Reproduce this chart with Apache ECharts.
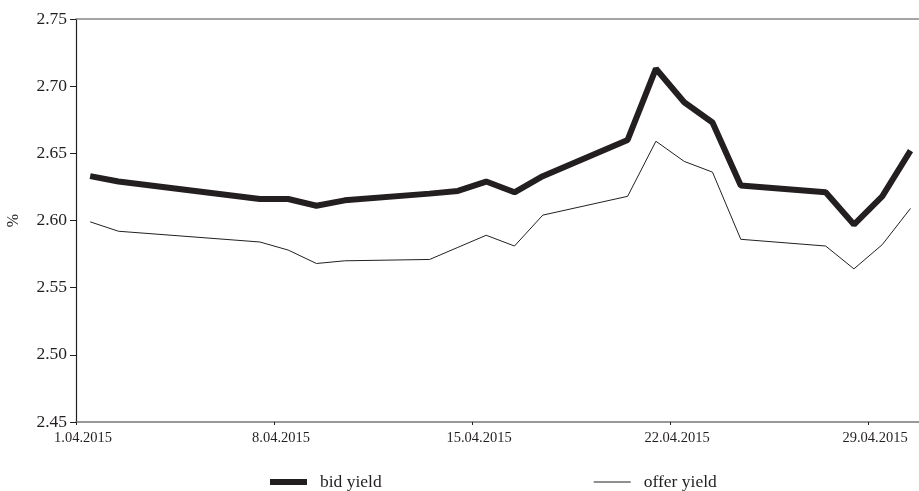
<!DOCTYPE html>
<html>
<head>
<meta charset="utf-8">
<script src="https://cdn.jsdelivr.net/npm/echarts@6/dist/echarts.min.js"></script>
<style>html,body{margin:0;padding:0;background:#fff}#c{width:919px;height:491px}</style>
</head>
<body>
<div id="c"></div>
<script>
var dates = ['2015-04-01','2015-04-02','2015-04-07','2015-04-08','2015-04-09','2015-04-10','2015-04-13','2015-04-14','2015-04-15','2015-04-16','2015-04-17','2015-04-20','2015-04-21','2015-04-22','2015-04-23','2015-04-24','2015-04-27','2015-04-28','2015-04-29','2015-04-30'];
var bidYield = [2.633,2.629,2.616,2.616,2.611,2.615,2.620,2.622,2.629,2.621,2.633,2.660,2.713,2.688,2.673,2.626,2.621,2.597,2.618,2.652];
var offerYield = [2.599,2.592,2.584,2.578,2.568,2.570,2.571,2.580,2.589,2.581,2.604,2.618,2.659,2.644,2.636,2.586,2.581,2.564,2.582,2.609];
var seriesNames = ['bid yield','offer yield'];
var yTicks = ['2.45','2.50','2.55','2.60','2.65','2.70','2.75'];

var base = Date.UTC(2015,3,1);
function dayIdx(s){var p=s.split('-');return (Date.UTC(+p[0],+p[1]-1,+p[2])-base)/86400000;}
function pts(vals){return dates.map(function(d,i){return [dayIdx(d)+0.5, vals[i]];});}
function fmtDate(v){var d=new Date(base+Math.round(v)*86400000);var m=d.getUTCMonth()+1;return d.getUTCDate()+'.'+(m<10?'0':'')+m+'.'+d.getUTCFullYear();}

var chart = echarts.init(document.getElementById('c'));
var serif = '"Liberation Serif","DejaVu Serif",serif';
chart.setOption({
  animation:false,
  grid:{left:76,right:0,top:19,bottom:69,containLabel:false,outerBoundsMode:'none'},
  legend:{
    left:265, top:468, itemGap:212, itemWidth:37, itemHeight:14,
    data:[
      {name:seriesNames[0], icon:'path://M0 0H60V10H0Z'},
      {name:seriesNames[1], icon:'path://M0 0H100V3H0Z'}
    ],
    textStyle:{fontFamily:serif,fontSize:17.5,color:'#231f20',padding:[0,0,0,8]}
  },
  xAxis:[{
    type:'value', min:0, max:29.8, interval:7,
    axisLine:{show:true,onZero:false,lineStyle:{color:'#777',width:1.5}},
    axisTick:{show:true,length:3,lineStyle:{color:'#231f20'}},
    splitLine:{show:false},
    axisLabel:{formatter:fmtDate,fontFamily:serif,fontSize:14.5,color:'#231f20',margin:9,padding:[0,0,0,14],showMaxLabel:false}
  },{
    type:'value', position:'top', min:0, max:29.8,
    axisLine:{show:true,lineStyle:{color:'#888',width:1.5}},
    axisTick:{show:false},axisLabel:{show:false},splitLine:{show:false}
  }],
  yAxis:{
    type:'value', min:2.45, max:2.75, interval:0.05,
    name:'%', nameLocation:'middle', nameGap:54, nameRotate:90,
    nameTextStyle:{fontFamily:serif,fontSize:16,color:'#231f20'},
    axisLine:{show:true,lineStyle:{color:'#231f20',width:1.2}},
    axisTick:{show:true,length:6,lineStyle:{color:'#231f20'}},
    splitLine:{show:false},
    axisLabel:{formatter:function(v,i){return yTicks[i]!==undefined?yTicks[i]:v.toFixed(2);},fontFamily:serif,fontSize:17.5,color:'#231f20',margin:9}
  },
  series:[{
    name:seriesNames[0], type:'line', data:pts(bidYield), symbol:'none',
    lineStyle:{color:'#231f20',width:6}, itemStyle:{color:'#231f20'}
  },{
    name:seriesNames[1], type:'line', data:pts(offerYield), symbol:'none',
    lineStyle:{color:'#231f20',width:1}, itemStyle:{color:'#231f20'}
  }]
});
</script>
</body>
</html>
